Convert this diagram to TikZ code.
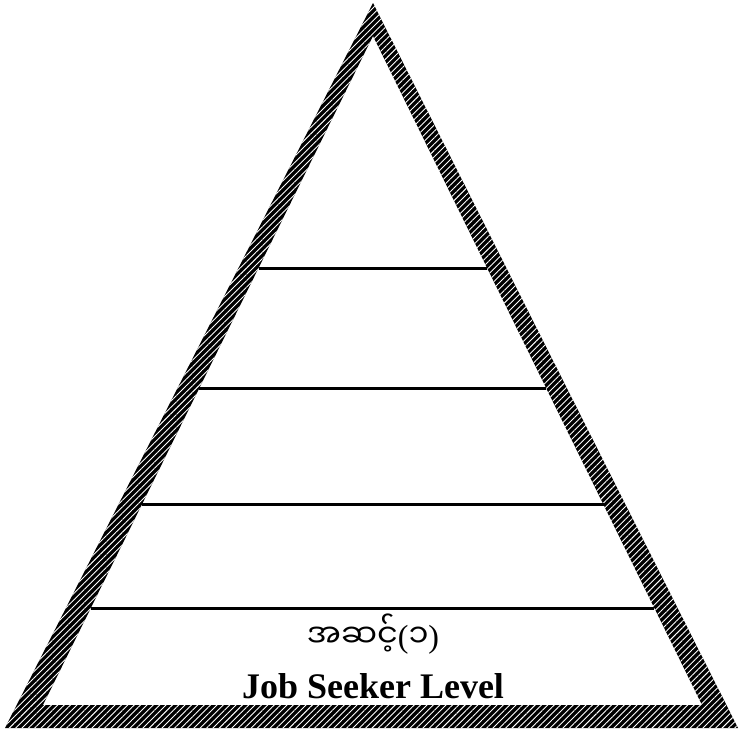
\documentclass[tikz,border=0pt]{standalone}
\usepackage{fontspec}
\setmainfont{Liberation Serif}
\newfontfamily\myanmarfont[Script=Myanmar]{Noto Sans Myanmar UI}
\usetikzlibrary{patterns.meta,calc}

\tikzset{
  frame/.style={even odd rule},
  hatch/.style={pattern={Lines[angle=45, distance=4.5pt, line width=0.9pt]}, pattern color=white},
  levelline/.style={line width=3pt},
}

\begin{document}
\begin{tikzpicture}[x=1pt, y=-1pt]
    \useasboundingbox (0,0) rectangle (741,731);

    % Pyramid corners
    \coordinate (top) at (373,3);
    \coordinate (left) at (5,728);
    \coordinate (right) at (738,728);
    \coordinate (apex) at (373,36);
    \coordinate (bl) at (43,705);
    \coordinate (br) at (702,705);

    % Hatched frame
    \fill[frame, black] (top) -- (left) -- (right) -- cycle (apex) -- (bl) -- (br) -- cycle;
    \fill[frame, hatch] (top) -- (left) -- (right) -- cycle (apex) -- (bl) -- (br) -- cycle;

    % Levels
    \foreach \t in {0.3468,0.5262,0.7010,0.8550}
        \draw[levelline] ($(apex)!\t!(bl)$) -- ($(apex)!\t!(br)$);

    % Label
    \node[font=\fontsize{32}{36}\selectfont] (level) at (373,634)
        {{\myanmarfont အဆင့်}({\myanmarfont ၁})};
    \node[font=\fontsize{36}{40}\selectfont\bfseries] (seeker) at (373,686) {Job Seeker Level};
\end{tikzpicture}
\end{document}
